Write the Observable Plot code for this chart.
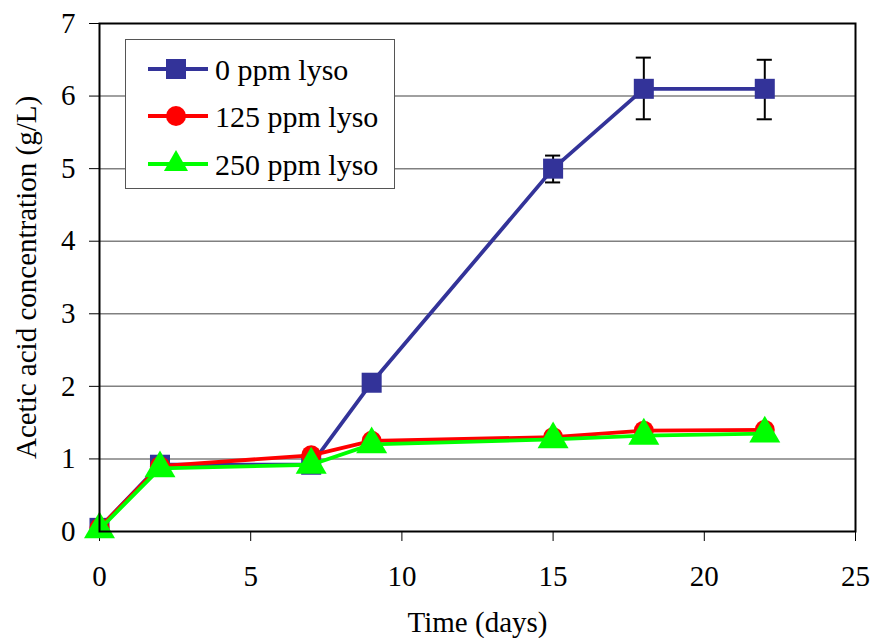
<!DOCTYPE html>
<html><head><meta charset="utf-8">
<script src="https://cdn.jsdelivr.net/npm/d3@7"></script>
<script src="https://cdn.jsdelivr.net/npm/@observablehq/plot@0.6"></script>
<style>
body{margin:0;background:#fff;}
#wrap{position:relative;width:874px;height:638px;font-family:'Liberation Serif','Times New Roman',serif;}
#wrap svg text{font-family:'Liberation Serif','Times New Roman',serif !important;}
#legend{position:absolute;left:125px;top:39px;width:268px;height:148px;border:1.5px solid #555;background:#fff;}
</style>
</head><body>
<div id="wrap"><div id="legend"></div></div>
<script>
const days = [0, 2, 7, 9, 15, 18, 22];
const series = ["0 ppm lyso", "125 ppm lyso", "250 ppm lyso"];
const ppm0 = [0.05, 0.92, 0.92, 2.05, 5.0, 6.1, 6.1];
const ppm125 = [0.05, 0.9, 1.05, 1.25, 1.3, 1.39, 1.4];
const ppm250 = [0.03, 0.87, 0.92, 1.2, 1.27, 1.32, 1.35];
const errDays = [15, 18, 22];
const errLow = [4.81, 5.68, 5.68];
const errHigh = [5.18, 6.53, 6.5];
const colors = ["#333399", "#FF0000", "#00FF00"];
const symbols = ["square", "circle", "triangle"];
const radii = [11.3, 10, 11.5];
const serif = "'Liberation Serif', 'Times New Roman', serif";

const values = [ppm0, ppm125, ppm250];
const rows = [];
series.forEach((s, i) => days.forEach((d, j) => rows.push({series: s, x: d, y: values[i][j]})));
const errs = errDays.map((d, i) => ({x: d, lo: errLow[i], hi: errHigh[i]}));

const marks = [
  Plot.ruleY([1, 2, 3, 4, 5, 6], {stroke: "#808080", strokeWidth: 1.5}),
  Plot.axisY({ticks: [0,1,2,3,4,5,6,7], tickFormat: "d", tickSize: 10, tickPadding: 14, fontSize: 29, fontFamily: serif,
    label: "Acetic acid concentration (g/L)", labelAnchor: "center", labelArrow: "none", labelOffset: 84}),
  Plot.axisX({ticks: [0,5,10,15,20,25], tickFormat: "d", tickSize: 10, tickPadding: 24, fontSize: 29, fontFamily: serif,
    label: "Time (days)", labelAnchor: "center", labelArrow: "none", labelOffset: 100}),
];
series.forEach((s, i) => {
  const data = rows.filter(r => r.series === s);
  marks.push(Plot.line(data, {x: "x", y: "y", stroke: colors[i], strokeWidth: 3.8}));
  if (i === 0) {
    marks.push(Plot.ruleX(errs, {x: "x", y1: "lo", y2: "hi", stroke: "#000", strokeWidth: 2}));
    marks.push(Plot.ruleY(errs, {y: "lo", x1: d => d.x - 0.25, x2: d => d.x + 0.25, stroke: "#000", strokeWidth: 2}));
    marks.push(Plot.ruleY(errs, {y: "hi", x1: d => d.x - 0.25, x2: d => d.x + 0.25, stroke: "#000", strokeWidth: 2}));
  }
  marks.push(Plot.dot(data, {x: "x", y: "y", symbol: symbols[i], r: radii[i], fill: colors[i], stroke: "none"}));
});
marks.push(Plot.frame({stroke: "#000", strokeWidth: 2}));

const chart = Plot.plot({
  width: 874, height: 638,
  marginLeft: 99, marginRight: 19, marginTop: 23, marginBottom: 107,
  x: {domain: [0, 25]},
  y: {domain: [0, 7]},
  style: {fontFamily: serif, fontSize: "29px", color: "#000", background: "#fff"},
  marks
});
document.getElementById("wrap").prepend(chart);

// legend
const lg = d3.select("#legend").append("svg").attr("width", 268).attr("height", 148);
const rowY = [29, 76, 124];
series.forEach((s, i) => {
  const g = lg.append("g").attr("transform", `translate(0,${rowY[i]})`);
  g.append("line").attr("x1", 22).attr("x2", 82).attr("stroke", colors[i]).attr("stroke-width", 3.8);
  const sym = i === 0 ? d3.symbolSquare : i === 1 ? d3.symbolCircle : d3.symbolTriangle2;
  g.append("path").attr("transform", "translate(50,0)")
    .attr("d", d3.symbol(sym, Math.PI * radii[i] * radii[i])()).attr("fill", colors[i]);
  g.append("text").attr("x", 89).attr("y", 0).attr("dy", "0.35em")
    .style("font-family", serif).style("font-size", "30px").text(s);
});
</script>
</body></html>
